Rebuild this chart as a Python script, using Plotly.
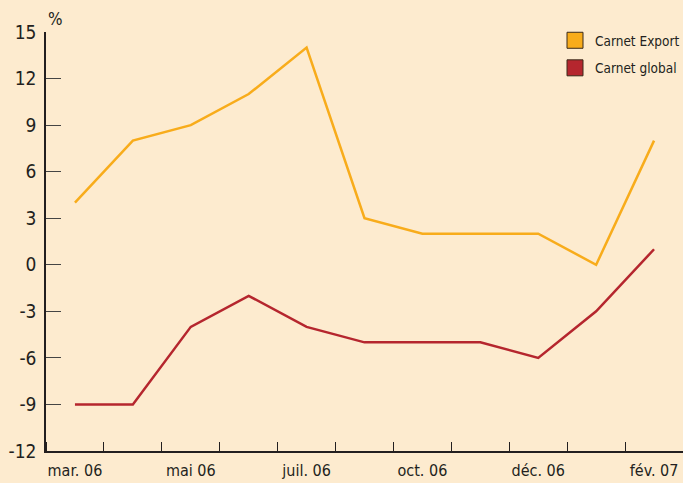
import plotly.graph_objects as go

months = ["mar. 06", "avr. 06", "mai 06", "juin 06", "juil. 06", "sept. 06",
          "oct. 06", "nov. 06", "déc. 06", "janv. 07", "fév. 07"]
export_vals = [4, 8, 9, 11, 14, 3, 2, 2, 2, 0, 8]
global_vals = [-9, -9, -4, -2, -4, -5, -5, -5, -6, -3, 1]
label_idx = [0, 2, 4, 6, 8, 10]
y_ticks = [15, 12, 9, 6, 3, 0, -3, -6, -9, -12]

ORANGE = "#F8AC1B"
RED = "#B5262E"
BG = "#FDEBCF"
FONT = "DejaVu Sans Condensed, Liberation Sans Narrow, sans-serif"
INK = "#231f20"

x = list(range(len(months)))
fig = go.Figure()
fig.add_trace(go.Scatter(x=x, y=export_vals, mode="lines",
                         line=dict(color=ORANGE, width=2.5), showlegend=False))
fig.add_trace(go.Scatter(x=x, y=global_vals, mode="lines",
                         line=dict(color=RED, width=2.5), showlegend=False))
for name, col in [("Carnet Export", ORANGE), ("Carnet global", RED)]:
    fig.add_trace(go.Scatter(x=[None], y=[None], mode="markers", name=name,
                             legendgroup=name,
                             marker=dict(symbol="square", size=16, color=col,
                                         line=dict(color="#3a2a1a", width=1))))

fig.update_layout(
    width=683, height=483,
    paper_bgcolor=BG, plot_bgcolor=BG,
    margin=dict(l=46, r=0, t=32, b=32, autoexpand=False),
    font=dict(family=FONT, color=INK),
    legend=dict(xref="container", yref="container",
                x=555 / 683, y=1 - 25 / 483, xanchor="left", yanchor="top",
                bgcolor="rgba(0,0,0,0)", font=dict(size=13.5, family=FONT),
                itemwidth=30, tracegroupgap=7),
    annotations=[dict(text="%", xref="paper", yref="paper", x=0.0, y=1.0,
                      xanchor="left", yanchor="bottom", xshift=0, yshift=1,
                      showarrow=False, font=dict(size=17, family=FONT))],
)
fig.update_xaxes(
    range=[-0.5, len(months) - 0.5], automargin=False,
    tickvals=label_idx, ticktext=[months[i] for i in label_idx],
    ticks="", ticklabelstandoff=4, showgrid=False, zeroline=False,
    showline=True, linecolor=INK, linewidth=1.5,
    tickfont=dict(size=16, family=FONT),
    minor=dict(tick0=0.5, dtick=1, ticks="inside", ticklen=9,
               tickcolor=INK, tickwidth=1.2, showgrid=False),
)
fig.update_yaxes(
    range=[-12, 15], automargin=False,
    tickvals=y_ticks, ticktext=[str(v) for v in y_ticks],
    ticks="inside", ticklen=15, tickcolor="#444", tickwidth=1.2,
    ticklabelstandoff=4,
    showgrid=False, zeroline=False,
    showline=True, linecolor=INK, linewidth=1.5,
    tickfont=dict(size=19, family=FONT),
)
fig.write_html(
    "out.html",
    config={"displayModeBar": False},
    post_script="document.body.style.margin='0';"
                "document.body.style.background='" + BG + "';",
)
